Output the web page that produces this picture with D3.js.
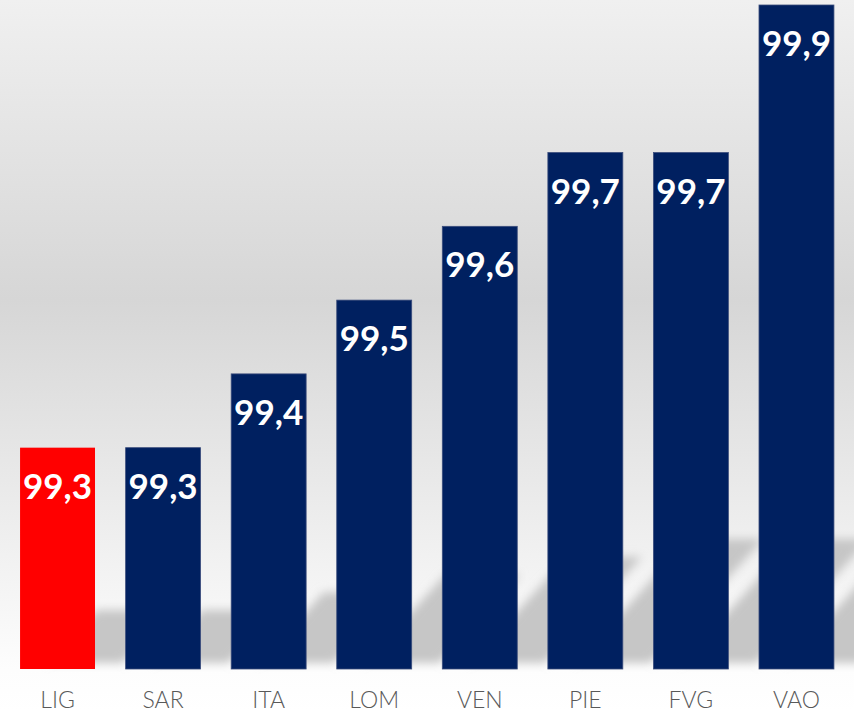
<!DOCTYPE html>
<html>
<head>
<meta charset="utf-8">
<script src="https://cdn.jsdelivr.net/npm/d3@7"></script>
<style>
  body { margin: 0; background: #fff; }
  svg { display: block; }
</style>
</head>
<body>
<div id="chart"></div>
<script>
// Data
const regions = ["LIG", "SAR", "ITA", "LOM", "VEN", "PIE", "FVG", "VAO"];
const values = [99.3, 99.3, 99.4, 99.5, 99.6, 99.7, 99.7, 99.9];
const labels = ["99,3", "99,3", "99,4", "99,5", "99,6", "99,7", "99,7", "99,9"];
const highlight = "LIG";

// Layout
const w = 854;
const h = 712;
const base = 669;

const svg = d3.select("#chart")
    .append("svg")
    .attr("width", w)
    .attr("height", h);

const defs = svg.append("defs");
const grad = defs.append("linearGradient")
    .attr("id", "bg")
    .attr("x1", 0).attr("y1", 0).attr("x2", 0).attr("y2", 1);
grad.append("stop").attr("offset", "0").attr("stop-color", "#f0f0f0");
grad.append("stop").attr("offset", "0.42").attr("stop-color", "#d6d6d6");
grad.append("stop").attr("offset", "0.94").attr("stop-color", "#fdfdfd");
grad.append("stop").attr("offset", "1").attr("stop-color", "#ffffff");

defs.append("filter")
    .attr("id", "blur")
    .attr("x", "-20%").attr("y", "-20%").attr("width", "140%").attr("height", "140%")
    .append("feGaussianBlur")
    .attr("stdDeviation", 5);

svg.append("rect")
    .attr("width", w)
    .attr("height", h)
    .attr("fill", "url(#bg)");

// Scales
const xScale = d3.scaleBand()
    .domain(regions)
    .range([0, w])
    .paddingInner(0.29)
    .paddingOuter(0.19);
const yScale = d3.scaleLinear()
    .domain([99, 99.9])
    .range([base, 5]);

const data = regions.map((r, i) => ({ region: r, value: values[i], label: labels[i] }));

// Perspective shadows behind the bars
const shadowRatio = 0.24;
const skew = 0.91;
const shift = 28;
svg.append("g")
    .attr("filter", "url(#blur)")
    .selectAll("path")
    .data(data)
    .enter()
    .append("path")
    .attr("fill", "#c6c6c6")
    .attr("d", d => {
        const x0 = xScale(d.region) + shift;
        const x1 = x0 + xScale.bandwidth();
        const sh = (base - yScale(d.value)) * shadowRatio;
        const yb = base - 6;
        return `M${x0},${yb} L${x1},${yb} L${x1 + sh * skew},${yb - sh} L${x0 + sh * skew},${yb - sh} Z`;
    });

// Bars
svg.append("g")
    .selectAll("rect")
    .data(data)
    .enter()
    .append("rect")
    .attr("x", d => xScale(d.region))
    .attr("y", d => yScale(d.value))
    .attr("width", xScale.bandwidth())
    .attr("height", d => base - yScale(d.value))
    .attr("fill", d => d.region === highlight ? "#ff0000" : "#002060")
    .attr("stroke", d => d.region === highlight ? "none" : "#3b4d7c")
    .attr("stroke-width", 0.8);

// Value labels
svg.append("g")
    .selectAll("text")
    .data(data)
    .enter()
    .append("text")
    .attr("x", d => xScale(d.region) + xScale.bandwidth() / 2)
    .attr("y", d => yScale(d.value) + 51)
    .attr("text-anchor", "middle")
    .attr("fill", "#ffffff")
    .style("font-family", "Lato, 'Open Sans', sans-serif")
    .style("font-weight", 700)
    .style("font-size", "35px")
    .text(d => d.label);

// Category axis
const xAxis = d3.axisBottom(xScale).tickSize(0).tickPadding(0);
const axisG = svg.append("g")
    .attr("transform", `translate(0,${base})`)
    .call(xAxis);
axisG.select(".domain").remove();
axisG.selectAll("text")
    .attr("y", 39)
    .attr("dy", 0)
    .attr("fill", "#595959")
    .style("font-family", "Lato, 'Open Sans', sans-serif")
    .style("font-weight", 300)
    .style("font-size", "23px");
</script>
</body>
</html>
